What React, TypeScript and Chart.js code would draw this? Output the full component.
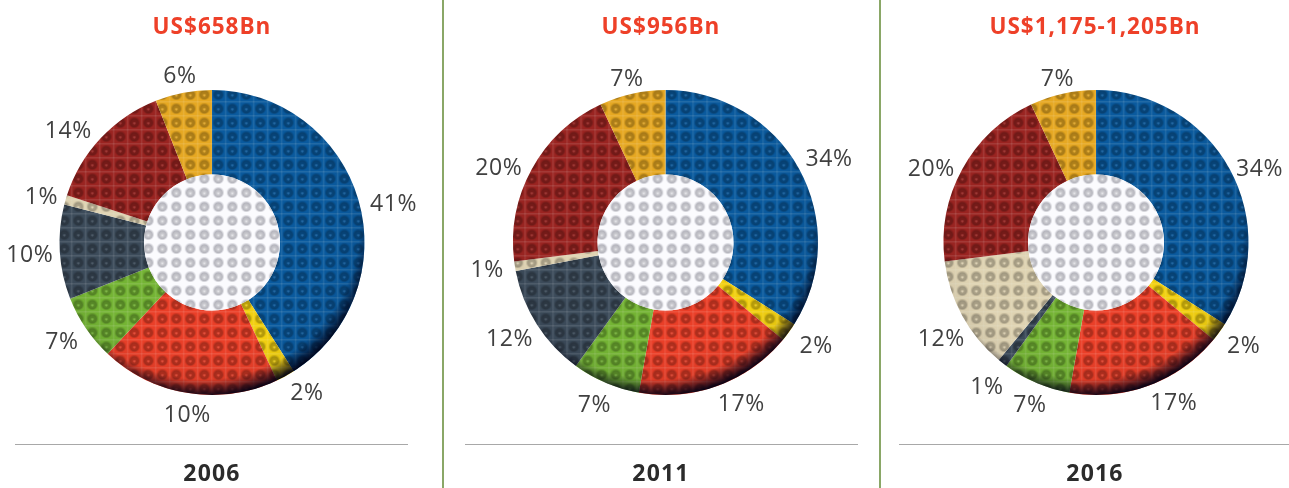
import React, { useEffect, useRef } from "react";
import { Chart, registerables } from "chart.js";

Chart.register(...registerables);

const years = ["2006", "2011", "2016"];
const totals = ["US$658Bn", "US$956Bn", "US$1,175-1,205Bn"];

const shares2006 = [41, 2, 19, 7, 10, 1, 14, 6];
const shares2011 = [34, 2, 16.8, 7.2, 12, 1, 20, 7];
const shares2016 = [34, 2, 16.8, 7.2, 1, 12, 20, 7];

const labels2006 = ["41%", "2%", "10%", "7%", "10%", "1%", "14%", "6%"];
const labels2011 = ["34%", "2%", "17%", "7%", "12%", "1%", "20%", "7%"];
const labels2016 = ["34%", "2%", "17%", "7%", "1%", "12%", "20%", "7%"];

const colors2006 = ["#0a5a9e", "#f2d010", "#ea3f28", "#74b434", "#3c4b5a", "#dfd3b2", "#9a2421", "#e6a822"];
const colors2011 = colors2006;
const colors2016 = ["#0a5a9e", "#f2d010", "#ea3f28", "#74b434", "#3c4b5a", "#dfd3b2", "#9a2421", "#e6a822"];

const nudges2006 = [[12, 9], [10, -6], [3, -3], [-4, -1], [-6, 0], [-1, 2], [-15, 8], [1, 5]];
const nudges2011 = [[9, 0], [8, -2], [15, -6], [-2, -1], [-7, 0], [-4, -2], [-12, 9], [0, 7]];
const nudges2016 = [[9, 10], [5, -2], [17, -7], [3, -1], [-1, 3], [0, 10], [-10, 10], [0, 7]];

const panels = [
  { left: 0, width: 443, cx: 212, textX: 212, rule: [15, 408], shares: shares2006, labels: labels2006, colors: colors2006, nudges: nudges2006 },
  { left: 443, width: 437, cx: 665.5, textX: 661, rule: [465, 858], shares: shares2011, labels: labels2011, colors: colors2011, nudges: nudges2011 },
  { left: 880, width: 409, cx: 1096, textX: 1095, rule: [899, 1289], shares: shares2016, labels: labels2016, colors: colors2016, nudges: nudges2016 },
];

const R = 152.5;
const TILE = 14;
const FONT = '"Open Sans", sans-serif';

function beadPattern(color: string, originX: number, originY: number, white = false) {
  const t = document.createElement("canvas");
  t.width = TILE;
  t.height = TILE;
  const c = t.getContext("2d")!;
  c.fillStyle = color;
  c.fillRect(0, 0, TILE, TILE);
  if (!white) {
    c.fillStyle = "rgba(255,255,255,0.05)";
    c.fillRect(0, 0, TILE, 2);
    c.fillRect(0, 0, 2, TILE);
    c.fillRect(0, 0, TILE, 1);
    c.fillRect(0, 0, 1, TILE);
  }
  c.filter = "blur(0.7px)";
  const g = c.createRadialGradient(7.5, 8.5, 0, 7.5, 7.5, 6);
  if (white) {
    g.addColorStop(0, "rgba(232,232,236,1)");
    g.addColorStop(0.3, "rgba(200,200,205,1)");
    g.addColorStop(0.65, "rgba(178,178,186,0.95)");
    g.addColorStop(1, "rgba(185,185,195,0)");
  } else {
    g.addColorStop(0, "rgba(255,255,255,0.1)");
    g.addColorStop(0.28, "rgba(0,0,0,0.22)");
    g.addColorStop(0.65, "rgba(0,0,0,0.28)");
    g.addColorStop(1, "rgba(0,0,0,0)");
  }
  c.fillStyle = g;
  c.fillRect(1, 1, TILE - 2, TILE - 2);
  c.filter = "none";
  const pat = c.createPattern(t, "repeat")!;
  pat.setTransform(new DOMMatrix().translate(originX, originY));
  return pat;
}

const textPlugin = {
  id: "panelDecor",
  afterDatasetsDraw(chart: any, _a: any, opts: any) {
    const ctx = chart.ctx;
    const arcs = chart.getDatasetMeta(0).data;
    const first = arcs[0];
    const { x, y, outerRadius, innerRadius } = first;

    ctx.save();
    ctx.beginPath();
    ctx.arc(x, y, outerRadius, 0, Math.PI * 2);
    ctx.arc(x, y, innerRadius, 0, Math.PI * 2, true);
    ctx.clip();
    const shade = ctx.createRadialGradient(x - 9, y - 20, outerRadius * 0.86, x - 9, y - 20, outerRadius * 1.14);
    shade.addColorStop(0, "rgba(0,0,20,0)");
    shade.addColorStop(0.6, "rgba(0,0,20,0.05)");
    shade.addColorStop(0.8, "rgba(0,0,20,0.5)");
    shade.addColorStop(1, "rgba(0,0,20,0.95)");
    ctx.fillStyle = shade;
    ctx.fillRect(x - outerRadius, y - outerRadius, outerRadius * 2, outerRadius * 2);
    ctx.restore();

    ctx.save();
    ctx.beginPath();
    ctx.arc(x, y, innerRadius, 0, Math.PI * 2);
    ctx.fillStyle = opts.holePattern;
    ctx.fill();
    ctx.restore();

    ctx.save();
    ctx.textAlign = "center";
    ctx.textBaseline = "middle";
    ctx.fillStyle = "#404040";
    ctx.font = `23px ${FONT}`;
    ctx.letterSpacing = "0.6px";
    arcs.forEach((arc: any, i: number) => {
      const mid = (arc.startAngle + arc.endAngle) / 2;
      const lx = x + (outerRadius + 24) * Math.cos(mid) + opts.nudges[i][0];
      const ly = y + (outerRadius + 24) * Math.sin(mid) + opts.nudges[i][1] + 2;
      ctx.fillText(opts.labels[i], lx, ly);
    });
    ctx.font = `bold 22.5px ${FONT}`;
    ctx.letterSpacing = "1px";
    ctx.fillStyle = "#ee4028";
    ctx.fillText(opts.total, opts.textX, 28);
    ctx.font = `bold 23px ${FONT}`;
    ctx.letterSpacing = "1.2px";
    ctx.fillStyle = "#2b2b2b";
    ctx.fillText(opts.year, opts.textX, 474);
    ctx.restore();
  },
};

function Panel({ index }: { index: number }) {
  const ref = useRef<HTMLCanvasElement>(null);
  const p = panels[index];
  useEffect(() => {
    const localCx = p.cx - p.left;
    const ox = localCx + 6.3 - 7.5;
    const oy = 3;
    const chart = new Chart(ref.current!, {
      type: "doughnut",
      data: {
        labels: p.labels,
        datasets: [
          {
            data: p.shares,
            backgroundColor: p.colors.map((c) => beadPattern(c, ox, oy)),
            borderWidth: 0,
          },
        ],
      },
      options: {
        responsive: false,
        animation: false,
        cutout: "44.6%",
        events: [],
        layout: {
          padding: {
            left: localCx - R,
            right: p.width - localCx - R,
            top: 90,
            bottom: 93,
          },
        },
        plugins: {
          legend: { display: false },
          tooltip: { enabled: false },
          panelDecor: {
            labels: p.labels,
            nudges: p.nudges,
            total: totals[index],
            year: years[index],
            textX: p.textX - p.left,
            holePattern: beadPattern("#fbfbfe", ox, oy, true),
          },
        } as any,
      },
      plugins: [textPlugin],
    } as any);
    return () => chart.destroy();
  }, []);
  return (
    <canvas
      ref={ref}
      width={p.width}
      height={488}
      style={{ position: "absolute", left: p.left, top: 0, width: p.width, height: 488, display: "block" }}
    />
  );
}

export default function App() {
  return (
    <div style={{ position: "fixed", left: 0, top: 0, width: 1289, height: 488, overflow: "hidden", background: "#fff" }}>
      {panels.map((_, i) => (
        <Panel key={i} index={i} />
      ))}
      {[442, 879].map((x) => (
        <div key={x} style={{ position: "absolute", left: x, top: 0, width: 2, height: 488, background: "#8aa767" }} />
      ))}
      {panels.map((p) => (
        <div
          key={p.rule[0]}
          style={{ position: "absolute", left: p.rule[0], top: 443.5, width: p.rule[1] - p.rule[0], height: 1, background: "#a8a8a8" }}
        />
      ))}
    </div>
  );
}
